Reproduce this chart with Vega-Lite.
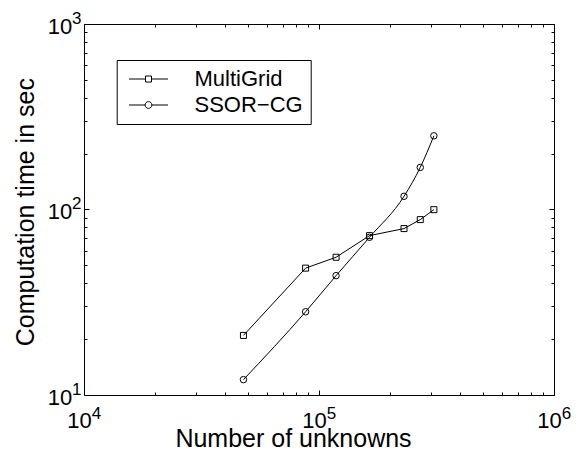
{
  "$schema": "https://vega.github.io/schema/vega-lite/v6.json",
  "width": 470,
  "height": 371,
  "autosize": {"type": "none"},
  "padding": {"left": 84, "top": 24, "right": 23, "bottom": 56},
  "background": "white",
  "config": {
    "view": {"stroke": null},
    "font": "Liberation Sans",
    "axis": {
      "grid": false,
      "domainColor": "black",
      "domainWidth": 1,
      "tickColor": "black",
      "tickWidth": 1,
      "labelColor": "black",
      "titleColor": "black",
      "labelFont": "Liberation Sans",
      "titleFont": "Liberation Sans",
      "titleFontWeight": "normal",
      "labelOverlap": false,
      "labelFlush": false,
      "labelBound": false
    }
  },
  "data": {
    "values": [
      {"series": "MultiGrid", "n": 47700, "t": 20.95},
      {"series": "MultiGrid", "n": 87700, "t": 48.3},
      {"series": "MultiGrid", "n": 118200, "t": 55.3},
      {"series": "MultiGrid", "n": 164000, "t": 72.3},
      {"series": "MultiGrid", "n": 230000, "t": 78.9},
      {"series": "MultiGrid", "n": 269700, "t": 88.2},
      {"series": "MultiGrid", "n": 308200, "t": 99.8},
      {"series": "SSOR−CG", "n": 47700, "t": 12.1},
      {"series": "SSOR−CG", "n": 87700, "t": 28.1},
      {"series": "SSOR−CG", "n": 118200, "t": 44.0},
      {"series": "SSOR−CG", "n": 164000, "t": 70.8},
      {"series": "SSOR−CG", "n": 230000, "t": 117.8},
      {"series": "SSOR−CG", "n": 269700, "t": 168.6},
      {"series": "SSOR−CG", "n": 308200, "t": 249.6}
    ]
  },
  "layer": [
    {
      "transform": [{"filter": "datum.series === 'MultiGrid'"}],
      "mark": {"type": "line", "color": "black", "strokeWidth": 1},
      "encoding": {
        "x": {
          "field": "n", "type": "quantitative",
          "scale": {"type": "log", "domain": [10000, 1000000], "nice": false},
          "axis": {
            "orient": "bottom", "values": [10000, 100000, 1000000],
            "labelExpr": "'10'", "ticks": false, "domain": true,
            "labelFontSize": 22, "labelPadding": 32, "labelBaseline": "alphabetic", "labelAlign": "center", "labelOffset": -5,
            "title": "Number of unknowns", "titleFontSize": 25, "titleX": 209, "titleY": 51,
            "titleBaseline": "alphabetic", "titleAlign": "center", "titleAnchor": null
          }
        },
        "y": {
          "field": "t", "type": "quantitative",
          "scale": {"type": "log", "domain": [10, 1000], "nice": false},
          "axis": {
            "orient": "left", "values": [10, 100, 1000],
            "labelExpr": "'10'", "ticks": false, "domain": true,
            "labelFontSize": 22, "labelPadding": 12.3, "labelBaseline": "alphabetic", "labelAlign": "right", "labelOffset": 9,
            "title": "Computation time in sec", "titleFontSize": 25, "titleAngle": -90,
            "titleX": -51, "titleY": 187.7, "titleBaseline": "alphabetic", "titleAlign": "center"
          }
        }
      }
    },
    {
      "transform": [{"filter": "datum.series !== 'MultiGrid'"}],
      "mark": {"type": "line", "color": "black", "strokeWidth": 1, "interpolate": "monotone"},
      "encoding": {
        "x": {
          "field": "n", "type": "quantitative",
          "scale": {"type": "log", "domain": [10000, 1000000], "nice": false},
          "axis": {
            "orient": "bottom", "values": [10000, 100000, 1000000],
            "labelExpr": "'' + round(log(datum.value) / LN10)", "ticks": false, "domain": false,
            "labelFontSize": 17, "labelPadding": 23.5, "labelBaseline": "alphabetic", "labelAlign": "center", "labelOffset": 12,
            "title": null
          }
        },
        "y": {
          "field": "t", "type": "quantitative",
          "scale": {"type": "log", "domain": [10, 1000], "nice": false},
          "axis": {
            "orient": "left", "values": [10, 100, 1000],
            "labelExpr": "'' + round(log(datum.value) / LN10)", "ticks": false, "domain": false,
            "labelFontSize": 17, "labelPadding": 12.5, "labelBaseline": "alphabetic", "labelAlign": "left", "labelOffset": -1,
            "title": null
          }
        }
      }
    },
    {
      "transform": [{"filter": "datum.series === 'MultiGrid'"}],
      "mark": {"type": "point", "shape": "square", "filled": false, "color": "black", "strokeWidth": 1, "size": 36, "opacity": 1},
      "encoding": {
        "x": {
          "field": "n", "type": "quantitative",
          "scale": {"type": "log", "domain": [10000, 1000000], "nice": false},
          "axis": {"orient": "bottom", "values": [10000, 100000, 1000000], "labels": false, "ticks": true, "tickSize": -5, "domain": false, "title": null}
        },
        "y": {
          "field": "t", "type": "quantitative",
          "scale": {"type": "log", "domain": [10, 1000], "nice": false},
          "axis": {"orient": "left", "values": [10, 100, 1000], "labels": false, "ticks": true, "tickSize": -5, "domain": false, "title": null}
        }
      }
    },
    {
      "transform": [{"filter": "datum.series !== 'MultiGrid'"}],
      "mark": {"type": "point", "shape": "circle", "filled": false, "color": "black", "strokeWidth": 1, "size": 42, "opacity": 1},
      "encoding": {
        "x": {
          "field": "n", "type": "quantitative",
          "scale": {"type": "log", "domain": [10000, 1000000], "nice": false},
          "axis": {"orient": "top", "values": [10000, 100000, 1000000], "labels": false, "ticks": true, "tickSize": -5, "domain": true, "title": null}
        },
        "y": {
          "field": "t", "type": "quantitative",
          "scale": {"type": "log", "domain": [10, 1000], "nice": false},
          "axis": {"orient": "right", "values": [10, 100, 1000], "labels": false, "ticks": true, "tickSize": -5, "domain": true, "title": null}
        }
      }
    },
    {
      "mark": {"type": "point", "opacity": 0, "filled": false, "color": "black", "strokeWidth": 1},
      "encoding": {
        "x": {
          "field": "n", "type": "quantitative",
          "scale": {"type": "log", "domain": [10000, 1000000], "nice": false},
          "axis": {"orient": "bottom", "values": [20000, 30000, 40000, 50000, 60000, 70000, 80000, 90000, 200000, 300000, 400000, 500000, 600000, 700000, 800000, 900000], "labels": false, "ticks": true, "tickSize": -3, "domain": false, "title": null}
        },
        "y": {
          "field": "t", "type": "quantitative",
          "scale": {"type": "log", "domain": [10, 1000], "nice": false},
          "axis": {"orient": "left", "values": [20, 30, 40, 50, 60, 70, 80, 90, 200, 300, 400, 500, 600, 700, 800, 900], "labels": false, "ticks": true, "tickSize": -3, "domain": false, "title": null}
        },
        "shape": {
          "field": "series", "type": "nominal",
          "scale": {
            "domain": ["MultiGrid", "SSOR−CG"],
            "range": [
              "M-1.95,0H-0.3M0.3,0H1.95M-0.3,-0.3H0.3V0.3H-0.3Z",
              "M-1.95,0H-0.34M0.34,0H1.95M-0.34,0A0.34,0.34 0 1,0 0.34,0A0.34,0.34 0 1,0 -0.34,0"
            ]
          },
          "legend": {
            "orient": "none", "legendX": 32.7, "legendY": 36, "title": null,
            "padding": 8, "strokeColor": "black", "fillColor": "white",
            "labelFont": "Liberation Sans", "labelFontSize": 22, "labelColor": "black", "labelOffset": 35, "labelLimit": 400,
            "symbolSize": 400, "symbolOffset": 12.8, "symbolOpacity": 1,
            "symbolStrokeWidth": 1, "symbolStrokeColor": "black", "symbolFillColor": "transparent",
            "rowPadding": 4
          }
        }
      }
    },
    {
      "mark": {"type": "point", "opacity": 0},
      "encoding": {
        "x": {
          "field": "n", "type": "quantitative",
          "scale": {"type": "log", "domain": [10000, 1000000], "nice": false},
          "axis": {"orient": "top", "values": [20000, 30000, 40000, 50000, 60000, 70000, 80000, 90000, 200000, 300000, 400000, 500000, 600000, 700000, 800000, 900000], "labels": false, "ticks": true, "tickSize": -3, "domain": false, "title": null}
        },
        "y": {
          "field": "t", "type": "quantitative",
          "scale": {"type": "log", "domain": [10, 1000], "nice": false},
          "axis": {"orient": "right", "values": [20, 30, 40, 50, 60, 70, 80, 90, 200, 300, 400, 500, 600, 700, 800, 900], "labels": false, "ticks": true, "tickSize": -3, "domain": false, "title": null}
        }
      }
    }
  ],
  "resolve": {"axis": {"x": "independent", "y": "independent"}}
}
